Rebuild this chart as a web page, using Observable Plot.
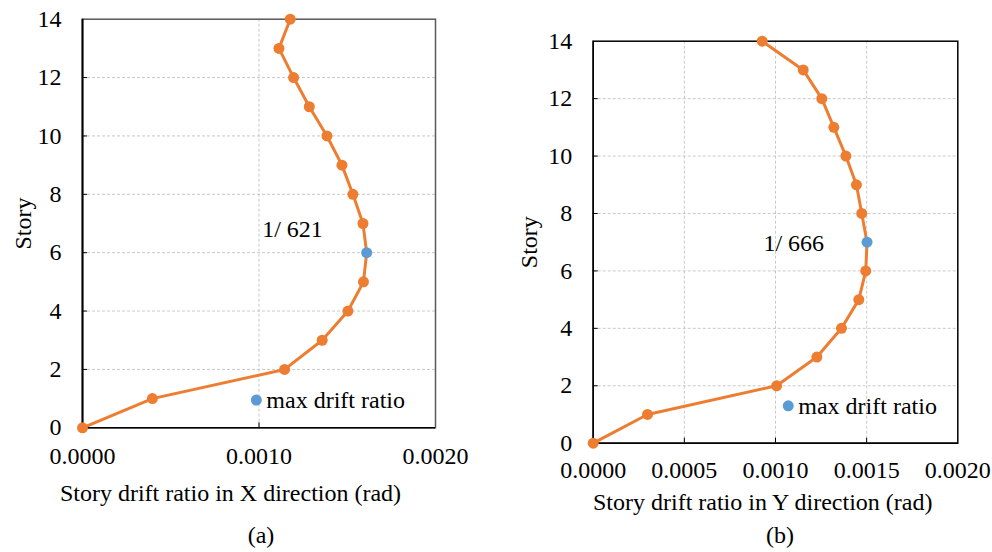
<!DOCTYPE html>
<html>
<head>
<meta charset="utf-8">
<script src="https://cdn.jsdelivr.net/npm/d3@7"></script>
<script src="https://cdn.jsdelivr.net/npm/@observablehq/plot@0.6"></script>
<style>
  html, body { margin: 0; padding: 0; background: #fff; }
  #wrap { position: relative; width: 992px; height: 552px; overflow: hidden; }
  #wrap > div { position: absolute; top: 0; }
  svg, svg text { font-family: "Liberation Serif", "Times New Roman", serif !important; }
</style>
</head>
<body>
<div id="wrap"><div id="pa" style="left:0"></div><div id="pb" style="left:496px"></div></div>
<script>
// ---- data ----
const stories = [0, 1, 2, 3, 4, 5, 6, 7, 8, 9, 10, 11, 12, 13, 14];
const driftX = [0, 0.000396, 0.001145, 0.001358, 0.001504, 0.001592, 0.001610, 0.001589, 0.001532, 0.001470, 0.001385, 0.001285, 0.001196, 0.001113, 0.001177];
const driftY = [0, 0.000298, 0.001006, 0.001227, 0.001362, 0.001457, 0.001495, 0.001502, 0.001473, 0.001444, 0.001386, 0.001320, 0.001254, 0.001152, 0.000927];
const maxX = { story: 6, drift: 0.001610, label: "1/ 621", labelX: 0.00119, labelY: 6.8 };
const maxY = { story: 7, drift: 0.001502, label: "1/ 666", labelX: 0.00110, labelY: 6.95 };
const legendA = { x: 0.000985, y: 0.95, text: "max drift ratio" };
const legendB = { x: 0.00107, y: 1.3, text: "max drift ratio" };
const yTicks = [0, 2, 4, 6, 8, 10, 12, 14];
const xTicksA = [0, 0.001, 0.002];
const xTicksB = [0, 0.0005, 0.001, 0.0015, 0.002];

const ORANGE = "#ED7D31", BLUE = "#5B9BD5";
const FS = 24;
const FF = "Liberation Serif";

function panel(cfg) {
  const rows = stories.map((s, i) => ({ story: s, drift: cfg.values[i] }));
  const inner = cfg.xTicks.slice(1, -1);
  const T = { fontSize: FS, fontFamily: FF, fill: "#000" };
  const C = { ...T, textAnchor: "middle", lineAnchor: "middle" };
  return Plot.plot({
    width: 496, height: 552,
    marginLeft: cfg.ml, marginRight: cfg.mr, marginTop: cfg.mt, marginBottom: cfg.mb,
    style: { fontFamily: FF, fontSize: FS + "px", color: "#000", background: "transparent" },
    x: { domain: [0, 0.002] },
    y: { domain: [0, 14] },
    marks: [
      Plot.gridX(inner, { stroke: "#bbb", strokeOpacity: 1, strokeDasharray: "3,2", strokeWidth: 0.8 }),
      Plot.gridY(yTicks.slice(1, -1), { stroke: "#bbb", strokeOpacity: 1, strokeDasharray: "3,2", strokeWidth: 0.8 }),
      Plot.frame({ stroke: cfg.frameColor, strokeWidth: 1.5 }),
      Plot.axisX(cfg.xTicks, { tickSize: 0, tickPadding: cfg.xPad, tickFormat: d3.format(".4f"), ...T, label: null }),
      Plot.axisX(inner, { tickSize: 5, dy: -5, text: null, stroke: "#000", label: null }),
      Plot.axisY(yTicks, { tickSize: 0, tickPadding: cfg.yPad, ...T, label: null }),
      Plot.axisY(yTicks.slice(1, -1), { tickSize: 5, dx: 5, text: null, stroke: "#000", label: null }),
      Plot.ruleX([0], { stroke: "#000", strokeWidth: cfg.leftW }),
      Plot.ruleY([0], { stroke: "#000", strokeWidth: 1.5 }),
      Plot.line(rows, { x: "drift", y: "story", stroke: ORANGE, strokeWidth: 3 }),
      Plot.dot(rows.filter(d => d.story !== cfg.max.story), { x: "drift", y: "story", r: 5.5, fill: ORANGE }),
      Plot.dot([cfg.max], { x: "drift", y: "story", r: 5.5, fill: BLUE }),
      Plot.text([cfg.max], { x: "labelX", y: "labelY", text: "label", ...T }),
      Plot.dot([cfg.legend], { x: "x", y: "y", r: 5.5, fill: BLUE }),
      Plot.text([cfg.legend], { x: "x", y: "y", text: "text", dx: 10, textAnchor: "start", ...T }),
      Plot.text([cfg.xTitle], { text: d => d, frameAnchor: "bottom", dx: cfg.xTitleDx, dy: cfg.xTitleDy, ...C }),
      Plot.text(["Story"], { text: d => d, frameAnchor: "left", dx: cfg.yTitleDx, rotate: -90, ...C }),
      Plot.text([cfg.caption], { text: d => d, frameAnchor: "bottom", dx: cfg.capDx, dy: cfg.capDy, ...C })
    ]
  });
}

document.getElementById("pa").append(panel({
  values: driftX, max: maxX, legend: legendA, xTicks: xTicksA,
  ml: 82, mr: 61, mt: 18.7, mb: 124.7,
  frameColor: "#595959", leftW: 2,
  xPad: 19, yPad: 21,
  xTitle: "Story drift ratio in X direction (rad)", xTitleDx: -28.5, xTitleDy: 66,
  yTitleDx: -59,
  caption: "(a)", capDx: 2, capDy: 108,
  }));

document.getElementById("pb").append(panel({
  values: driftY, max: maxY, legend: legendB, xTicks: xTicksB,
  ml: 96.7, mr: 34.7, mt: 40.7, mb: 109.3,
  frameColor: "#000", leftW: 1.5,
  xPad: 18, yPad: 21,
  xTitle: "Story drift ratio in Y direction (rad)", xTitleDx: -12.8, xTitleDy: 59,
  yTitleDx: -64,
  caption: "(b)", capDx: 4.5, capDy: 92.6,
  }));
</script>
</body>
</html>
